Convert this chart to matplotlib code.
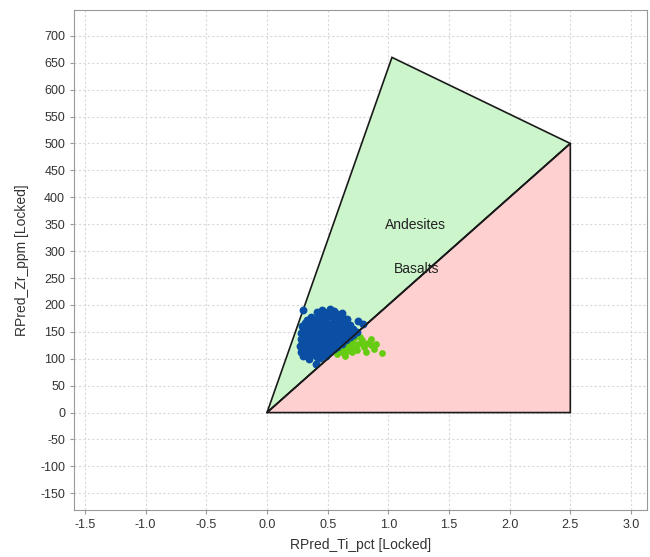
import matplotlib
matplotlib.use("Agg")
import matplotlib.pyplot as plt
from matplotlib.patches import Polygon
from matplotlib.ticker import FormatStrFormatter

plt.rcParams['font.family'] = ['Liberation Sans', 'DejaVu Sans']
plt.rcParams['axes.unicode_minus'] = False

# Discrimination field outlines (Ti %, Zr ppm)
andesite_x = [0.0, 1.03, 2.5]
andesite_y = [0.0, 660.0, 500.0]
basalt_x = [0.0, 2.5, 2.5]
basalt_y = [0.0, 500.0, 0.0]

# Samples classified as andesite
andesite_ti = [0.30, 0.45, 0.52, 0.55, 0.41, 0.47, 0.50, 0.58, 0.62,
               0.36, 0.43, 0.46, 0.53, 0.57, 0.61, 0.66,
               0.33, 0.38, 0.44, 0.49, 0.55, 0.60, 0.64, 0.75, 0.79,
               0.31, 0.35, 0.41, 0.47, 0.52, 0.58, 0.63, 0.68,
               0.29, 0.34, 0.39, 0.45, 0.50, 0.56, 0.61, 0.66, 0.71,
               0.30, 0.36, 0.42, 0.48, 0.53, 0.59, 0.64, 0.69, 0.74,
               0.28, 0.33, 0.38, 0.44, 0.50, 0.55, 0.60, 0.66, 0.71,
               0.30, 0.35, 0.41, 0.46, 0.52, 0.57, 0.63, 0.68,
               0.28, 0.33, 0.38, 0.43, 0.49, 0.54, 0.60, 0.65,
               0.29, 0.34, 0.40, 0.45, 0.51, 0.56, 0.62,
               0.27, 0.32, 0.37, 0.42, 0.48, 0.53, 0.58,
               0.29, 0.34, 0.39, 0.45, 0.50, 0.55,
               0.28, 0.33, 0.38, 0.43, 0.48, 0.52,
               0.30, 0.36, 0.41, 0.46, 0.49,
               0.35, 0.44, 0.40,
               0.39, 0.48, 0.54, 0.43, 0.37, 0.57, 0.51, 0.46, 0.32, 0.62]
andesite_zr = [191, 190, 193, 188, 186, 184, 187, 183, 185,
               178, 180, 176, 179, 177, 181, 174,
               172, 173, 170, 174, 171, 169, 173, 170, 165,
               166, 167, 164, 168, 165, 163, 167, 162,
               160, 161, 158, 162, 159, 161, 157, 160, 156,
               154, 155, 152, 156, 153, 155, 151, 154, 150,
               148, 149, 146, 150, 147, 149, 145, 148, 144,
               142, 143, 140, 144, 141, 143, 139, 141,
               136, 137, 134, 138, 135, 137, 133, 135,
               130, 131, 128, 132, 129, 131, 127,
               124, 125, 122, 126, 123, 125, 121,
               118, 119, 116, 120, 117, 119,
               112, 113, 110, 114, 111, 113,
               106, 107, 104, 108, 105,
               100, 101, 90,
               145, 152, 140, 133, 170, 132, 162, 120, 108, 138]

# Samples classified as basalt
basalt_ti = [0.60, 0.63, 0.66, 0.68, 0.70, 0.72, 0.75, 0.78, 0.80, 0.83,
             0.86, 0.88, 0.90, 0.95, 0.62, 0.66, 0.70, 0.74, 0.58, 0.64,
             0.82, 0.77, 0.72, 0.86, 0.68, 0.79]
basalt_zr = [117, 122, 127, 124, 132, 120, 128, 135, 122, 130,
             125, 118, 128, 110, 112, 115, 112, 116, 108, 105,
             112, 140, 138, 136, 119, 127]

x_ticks = [-1.5, -1.0, -0.5, 0.0, 0.5, 1.0, 1.5, 2.0, 2.5, 3.0]
y_ticks = [-150, -100, -50, 0, 50, 100, 150, 200, 250, 300, 350,
           400, 450, 500, 550, 600, 650, 700]

fig = plt.figure(figsize=(6.5, 5.57), dpi=100)
ax = fig.add_axes([0.114, 0.0844, 0.881, 0.8976])

ax.add_patch(Polygon(list(zip(andesite_x, andesite_y)), closed=True,
                     facecolor='#ccf5cc', edgecolor='#1a1a1a', lw=1.2, zorder=2))
ax.add_patch(Polygon(list(zip(basalt_x, basalt_y)), closed=True,
                     facecolor='#ffd0d0', edgecolor='#1a1a1a', lw=1.2, zorder=2))

ax.scatter(basalt_ti, basalt_zr, s=24, color='#66cc11', linewidths=0, zorder=3)
ax.scatter(andesite_ti, andesite_zr, s=32, color='#0a4fa3', linewidths=0, zorder=4)

# Dividing line redrawn above the samples
ax.plot([basalt_x[0], basalt_x[1]], [basalt_y[0], basalt_y[1]],
        color='#1a1a1a', lw=1.2, zorder=5)

ax.text(1.22, 349, 'Andesites', ha='center', va='center', fontsize=10,
        color='#222222', zorder=6)
ax.text(1.23, 267, 'Basalts', ha='center', va='center', fontsize=10,
        color='#222222', zorder=6)

ax.set_xlim(-1.59, 3.13)
ax.set_ylim(-181, 748)
ax.set_xticks(x_ticks)
ax.xaxis.set_major_formatter(FormatStrFormatter('%.1f'))
ax.set_yticks(y_ticks)

ax.grid(True, color='#d8d8d8', linestyle=(0, (2, 2)), lw=0.8, zorder=0)
ax.set_axisbelow(True)
for sp in ax.spines.values():
    sp.set_color('#999999')
ax.tick_params(axis='both', which='major', length=3, color='#999999',
               labelsize=9, labelcolor='#333333')

ax.set_xlabel('RPred_Ti_pct [Locked]', fontsize=10, color='#333333', labelpad=5)
ax.set_ylabel('RPred_Zr_ppm [Locked]', fontsize=10, color='#333333', labelpad=8)

fig.savefig('out.png', dpi=100, facecolor='white')
